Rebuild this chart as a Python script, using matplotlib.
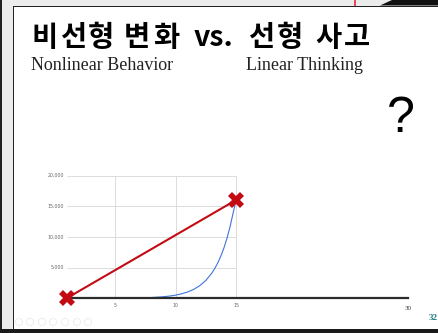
import matplotlib
matplotlib.use('Agg')
import matplotlib.pyplot as plt
from matplotlib.patches import Rectangle, Polygon, Circle

# chart data
x_ticks = [5, 10, 15]
y_ticks = [5000, 10000, 15000, 20000]
y_tick_labels = ['5,000', '10,000', '15,000', '20,000']

curve_x = [1, 2, 3, 4, 5, 6, 7, 8, 8.5, 9, 9.5, 10, 10.5, 11, 11.5, 12, 12.5,
           13, 13.25, 13.5, 13.75, 14, 14.25, 14.5, 14.75, 15]
curve_y = [1, 2, 4, 8, 16, 32, 64, 128, 181, 256, 362, 512, 724, 1024, 1448,
           2048, 2896, 4096, 4870, 5790, 6890, 8190, 9740, 11590, 13780, 16000]

linear_x = [1, 15]
linear_y = [0, 16000]

base_x = [1, 29.2]
base_y = [0, 0]

# title pieces and where each starts on the slide (px)
title_parts = ['비', '선', '형', '변', '화', 'vs.', '선', '형', '사', '고']
title_pos = [32, 60, 88, 124, 153, 194, 248, 277, 315, 344]

W, H = 438, 333
fig = plt.figure(figsize=(W / 100, H / 100), dpi=100)
fig.patch.set_facecolor('white')

# background / screenshot frame, in pixel coordinates
bg = fig.add_axes([0, 0, 1, 1])
bg.set_xlim(0, W)
bg.set_ylim(H, 0)
bg.axis('off')
bg.add_patch(Rectangle((0, 0), W, 6, color='#ececec', lw=0))
bg.add_patch(Rectangle((0, 0), 13, H, color='#ececec', lw=0))
bg.add_patch(Rectangle((0, 0), 2, H, color='#222222', lw=0))
bg.add_patch(Rectangle((12.5, 5.5), 1.8, H, color='#222222', lw=0))
bg.add_patch(Rectangle((12.5, 5.5), W, 1.8, color='#222222', lw=0))
bg.add_patch(Rectangle((0, 328.5), W, 5, color='#1a1a1a', lw=0))
bg.add_patch(Rectangle((354, 0), 2, 5.5, color='#e84a5a', lw=0))
bg.add_patch(Polygon([(380, 5.5), (392, 0), (W, 0), (W, 5.5)],
                     closed=True, color='#111111', lw=0))
for cx in [19, 30, 42, 53, 65, 77, 88]:
    bg.add_patch(Circle((cx, 322), 3.6, fill=False, ec='#ededed', lw=0.7))

# slide texts
for part, px in zip(title_parts, title_pos):
    bg.text(px, 38, part, fontsize=20.5, fontweight='bold',
            family=['Noto Sans CJK KR', 'DejaVu Sans'], va='center',
            ha='left', color='black')
bg.text(31, 66, 'Nonlinear Behavior', fontsize=13, family='Liberation Serif',
        va='center', ha='left', color='#222222')
bg.text(246, 66, 'Linear Thinking', fontsize=13, family='Liberation Serif',
        va='center', ha='left', color='#222222')
bg.text(401, 119, '?', fontsize=36, family='Liberation Sans',
        va='center', ha='center', color='black')
bg.text(429, 318, '32', fontsize=6.5, family='Liberation Serif',
        fontweight='bold', va='center', ha='left', color='#1f7f7f')

# chart axes: x 0..30 spans px 54.5..417.5, y 0..20000 spans px 298.3..175.5
left = 54.5 / W
width = 363 / W
bottom = (H - 298.3) / H
height = 122.8 / H
ax = fig.add_axes([left, bottom, width, height])
ax.set_xlim(0, 30)
ax.set_ylim(0, 20000)
ax.axis('off')

ax.hlines(y_ticks, 1, 15, color='#dcdcdc', lw=0.7, zorder=1)
ax.vlines(x_ticks, 0, 20000, color='#dcdcdc', lw=0.7, zorder=1)
for v, lab in zip(y_ticks, y_tick_labels):
    ax.annotate(lab, (1, v), xytext=(-2, 0), textcoords='offset points',
                fontsize=3.4, color='#666666', ha='right', va='center')
for v in x_ticks:
    ax.annotate(str(v), (v, 0), xytext=(0, -5.5), textcoords='offset points',
                fontsize=3.4, color='#666666', ha='center', va='center')
ax.annotate('30', (base_x[1], 0), xytext=(0, -7), textcoords='offset points',
            fontsize=5, family='Liberation Serif', color='#333333',
            ha='center', va='center')

ax.plot(curve_x, curve_y, color='#3f74d8', lw=0.8, zorder=2, clip_on=False)
ax.plot(base_x, base_y, color='#2b2b2b', lw=1.6, zorder=3, clip_on=False)
ax.plot(linear_x, linear_y, color='#c40b14', lw=1.5, zorder=4, clip_on=False)
ax.plot(linear_x, linear_y, linestyle='none', marker='X', markersize=12,
        color='#c40b14', markeredgewidth=0, zorder=5, clip_on=False)

plt.savefig('out.png', dpi=100)
